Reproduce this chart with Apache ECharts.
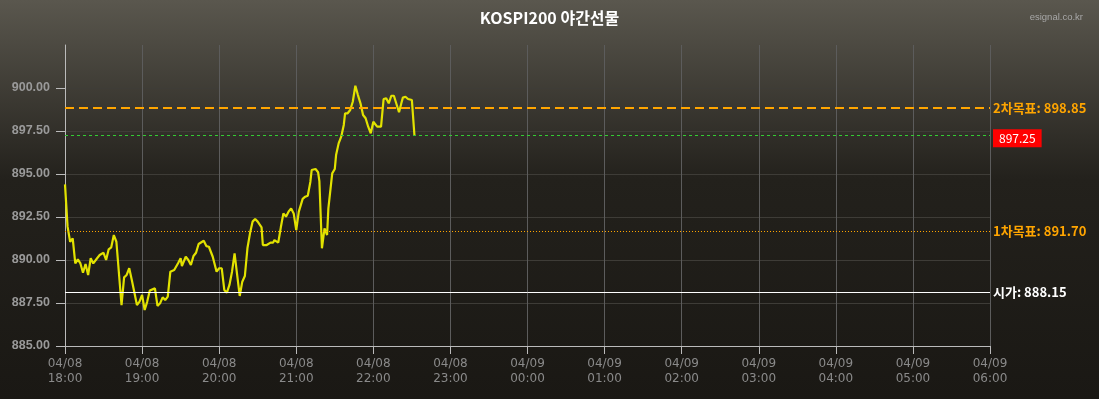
<!DOCTYPE html>
<html><head><meta charset="utf-8">
<script src="https://cdn.jsdelivr.net/npm/echarts@6/dist/echarts.min.js"></script>
<style>html,body{margin:0;padding:0;background:#1b1915;}#c{width:1099px;height:399px;}</style>
</head><body><div id="c"></div>
<script>
const title = 'KOSPI200 야간선물';
const watermark = 'esignal.co.kr';
const times = ['18:00','18:02','18:04','18:06','18:08','18:10','18:12','18:14','18:16','18:18','18:20','18:22','18:25','18:27','18:30','18:32','18:34','18:36','18:38','18:40','18:44','18:46','18:48','18:50','18:52','18:56','18:58','19:00','19:02','19:04','19:06','19:10','19:12','19:14','19:16','19:18','19:20','19:22','19:25','19:28','19:30','19:31','19:34','19:36','19:38','19:40','19:42','19:44','19:48','19:50','19:52','19:55','19:58','20:00','20:02','20:04','20:06','20:08','20:10','20:12','20:14','20:16','20:18','20:20','20:22','20:24','20:26','20:28','20:30','20:33','20:34','20:37','20:40','20:42','20:43','20:46','20:48','20:50','20:52','20:54','20:56','20:58','21:00','21:02','21:05','21:07','21:09','21:11','21:12','21:15','21:17','21:18','21:20','21:22','21:24','21:25','21:28','21:30','21:31','21:33','21:35','21:37','21:38','21:40','21:42','21:44','21:46','21:48','21:50','21:52','21:54','21:56','21:58','22:00','22:03','22:06','22:08','22:10','22:12','22:14','22:16','22:17','22:20','22:22','22:23','22:25','22:27','22:30','22:32'];
const prices = [894.40,891.94,891.06,891.26,889.80,890.04,889.80,889.26,889.77,889.13,890.10,889.80,890.10,890.29,890.42,890.00,890.62,890.74,891.45,891.06,887.38,888.99,889.13,889.52,888.84,887.38,887.58,887.97,887.09,887.58,888.22,888.35,887.33,887.48,887.83,887.67,887.87,889.32,889.42,889.81,890.10,889.65,890.19,890.00,889.71,890.23,890.42,890.93,891.12,890.81,890.77,890.19,889.32,889.52,889.52,888.26,888.10,888.55,889.32,890.39,889.13,887.91,888.74,889.07,890.68,891.55,892.23,892.38,892.23,891.90,890.87,890.87,891.01,891.01,891.16,891.01,891.90,892.71,892.52,892.81,893.00,892.71,891.74,892.81,893.55,893.68,893.74,894.55,895.23,895.29,895.10,894.59,890.68,891.84,891.45,893.00,895.04,895.29,896.10,896.78,897.17,897.85,898.53,898.53,898.72,899.20,900.13,899.59,899.11,898.43,898.24,897.75,897.37,898.04,897.75,897.75,899.36,899.40,899.11,899.55,899.55,899.49,898.59,899.17,899.44,899.49,899.36,899.30,897.25];
const yTicks = [885, 887.5, 890, 892.5, 895, 897.5, 900];
const levelNames = ['2차목표', '현재가', '1차목표', '시가'];
const levelValues = [898.85, 897.25, 891.70, 888.15];
const xStartDay = '04/08', xNextDay = '04/09';

function toMin(t){ const [h,m]=t.split(':').map(Number); let hh=h<18?h+24:h; return (hh-18)*60+m; }
const data = times.map((t,i)=>[toMin(t), prices[i]]);

const styles = [
  {lineStyle:{color:'#ffa500',type:[9,5],width:2}, label:{color:'#ffa500',fontWeight:'bold',fontSize:13,formatter:levelNames[0]+': '+levelValues[0].toFixed(2)}},
  {lineStyle:{color:'#33cc33',type:[3,3],width:1}, label:{color:'#ffffff',fontSize:12,backgroundColor:'#ff0000',padding:[3,6,3,6],offset:[0,3],formatter:levelValues[1].toFixed(2)}},
  {lineStyle:{color:'#ffa500',type:[1,2],width:1}, label:{color:'#ffa500',fontWeight:'bold',fontSize:13,formatter:levelNames[2]+': '+levelValues[2].toFixed(2)}},
  {lineStyle:{color:'#ffffff',type:'solid',width:1}, label:{color:'#ffffff',fontWeight:'bold',fontSize:13,formatter:levelNames[3]+': '+levelValues[3].toFixed(2)}}
];
const mlData = levelValues.map((v,i)=>({yAxis:v, lineStyle:styles[i].lineStyle, label:Object.assign({show:true,position:'end',distance:3,fontFamily:'"Noto Sans CJK KR", sans-serif'},styles[i].label)}));

const chart = echarts.init(document.getElementById('c'), null, {renderer:'canvas'});
chart.setOption({
  backgroundColor: new echarts.graphic.LinearGradient(0,0,0,1,[{offset:0,color:'#5a574e'},{offset:0.45,color:'#23211c'},{offset:1,color:'#1a1814'}]),
  animation:false,
  title:[{text:title,left:'center',top:5,textStyle:{color:'#ffffff',fontSize:16,fontWeight:'bold',fontFamily:'"Noto Sans CJK KR", sans-serif'}},
         {text:watermark,right:11,top:7,textStyle:{color:'#a8a8a8',fontSize:9.5,fontWeight:'normal',fontFamily:'"Liberation Sans", sans-serif'}}],
  grid:{left:65,right:109,top:45,bottom:53},
  xAxis:{type:'value',min:0,max:720,interval:60,
    axisLine:{lineStyle:{color:'#bbbbbb',width:1}},
    axisTick:{length:8,lineStyle:{color:'#bbbbbb'}},
    axisLabel:{color:'#8a8a8a',fontSize:12,lineHeight:15,margin:10,fontFamily:'"DejaVu Sans", sans-serif',
      formatter:function(v){const d=v<360?xStartDay:xNextDay;const h=Math.floor((18*60+v)/60)%24;return d+'\n'+String(h).padStart(2,'0')+':00';}},
    splitLine:{show:true,showMinLine:false,lineStyle:{color:'#5c5c5c',width:1}}},
  yAxis:{type:'value',min:885,max:902.5,interval:2.5,
    axisLine:{show:true,lineStyle:{color:'#bbbbbb'}},
    axisTick:{show:true,length:9,customValues:yTicks,lineStyle:{color:'#bbbbbb'}},
    axisLabel:{color:'#9a9a9a',fontSize:12.5,fontWeight:'bold',margin:15,showMaxLabel:false,fontFamily:'"Liberation Sans", sans-serif',
      formatter:function(v){return Number(v).toFixed(2);}},
    splitLine:{show:true,showMinLine:false,showMaxLine:true,lineStyle:{color:'#3e3c37',width:1}}},
  series:[{type:'line',data:data,showSymbol:false,symbol:'none',
    lineStyle:{color:'#e2e200',width:2.2},
    markLine:{silent:true,symbol:['none','none'],data:mlData}}]
});
</script></body></html>
